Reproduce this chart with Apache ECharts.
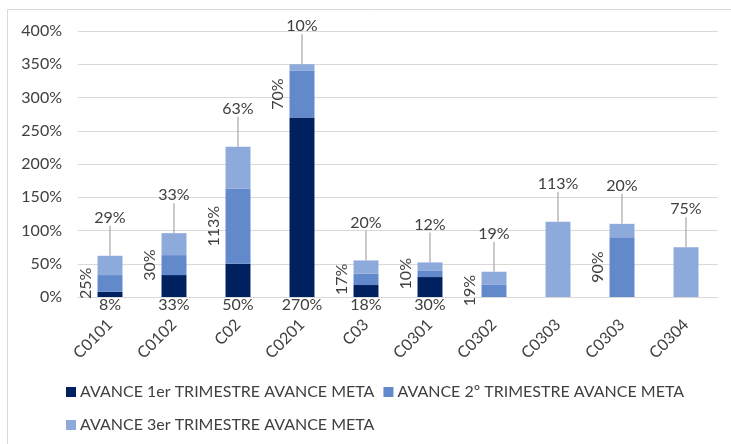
<!DOCTYPE html>
<html>
<head>
<meta charset="utf-8">
<script src="https://cdn.jsdelivr.net/npm/echarts@6/dist/echarts.min.js"></script>
<style>
html,body{margin:0;padding:0;background:#fff;}
#chart{width:731px;height:444px;}
</style>
</head>
<body>
<div id="chart"></div>
<script>
const categories = ['C0101','C0102','C02','C0201','C03','C0301','C0302','C0303','C0303','C0304'];
const seriesNames = ['AVANCE 1er TRIMESTRE AVANCE META','AVANCE 2º TRIMESTRE AVANCE META','AVANCE 3er TRIMESTRE AVANCE META'];
const q1 = [8, 33, 50, 270, 18, 30, null, null, null, null];
const q2 = [25, 30, 113, 70, 17, 10, 19, null, 90, null];
const q3 = [29, 33, 63, 10, 20, 12, 19, 113, 20, 75];
const yTicks = {min: 0, max: 400, interval: 50};

const FONT = 'Lato, sans-serif';
const TXT = '#404040';
const colors = ['#002060', '#6389cd', '#8eaadb'];

const chart = echarts.init(document.getElementById('chart'), null, {renderer: 'canvas'});
const fmt = p => p.value == null ? '' : p.value + '%';
const legendText = {fontFamily: FONT, fontSize: 16, color: '#404040', padding: [0,0,0,-1]};

chart.setOption({
  animation: false,
  textStyle: {fontFamily: FONT},
  graphic: [{
    type: 'rect', silent: true,
    shape: {x: 7.5, y: 9.5, width: 800, height: 600},
    style: {fill: 'none', stroke: '#d9d9d9', lineWidth: 1}
  }],
  grid: {left: 78, right: 13, top: 31, bottom: 147, containLabel: false},
  legend: [
    {data: [seriesNames[0], seriesNames[1]], left: 61, top: 379, itemWidth: 10, itemHeight: 10, itemGap: 9, icon: 'rect', textStyle: legendText},
    {data: [seriesNames[2]], left: 61, top: 412, itemWidth: 10, itemHeight: 10, itemGap: 9, icon: 'rect', textStyle: legendText}
  ],
  xAxis: {
    type: 'category', data: categories,
    axisLine: {lineStyle: {color: '#d9d9d9'}},
    axisTick: {show: false},
    axisLabel: {rotate: 45, margin: 25, fontSize: 16, color: TXT, fontFamily: FONT, interval: 0}
  },
  yAxis: {
    type: 'value', min: yTicks.min, max: yTicks.max, interval: yTicks.interval,
    axisLine: {show: false}, axisTick: {show: false},
    splitLine: {lineStyle: {color: '#d9d9d9', width: 1}},
    axisLabel: {formatter: '{value}%', fontSize: 16, color: TXT, fontFamily: FONT, margin: 16}
  },
  series: [
    {name: seriesNames[0], type: 'bar', stack: 'a', data: q1, barWidth: '39%', itemStyle: {color: colors[0]},
     label: {show: true, position: 'bottom', distance: 0, formatter: fmt, fontSize: 16, color: TXT, fontFamily: FONT}},
    {name: seriesNames[1], type: 'bar', stack: 'a', data: q2, barWidth: '39%', itemStyle: {color: colors[1]},
     label: {show: true, position: 'left', distance: 4, rotate: 90, align: 'center', verticalAlign: 'bottom',
             formatter: fmt, fontSize: 16, color: TXT, fontFamily: FONT}},
    {name: seriesNames[2], type: 'bar', stack: 'a', data: q3, barWidth: '39%', itemStyle: {color: colors[2]},
     label: {show: true, position: 'top', distance: 2, formatter: fmt, fontSize: 16, color: TXT, fontFamily: FONT},
     labelLayout: {dy: -28},
     labelLine: {show: true, lineStyle: {color: '#a6a6a6', width: 1.2}}}
  ]
});
</script>
</body>
</html>
